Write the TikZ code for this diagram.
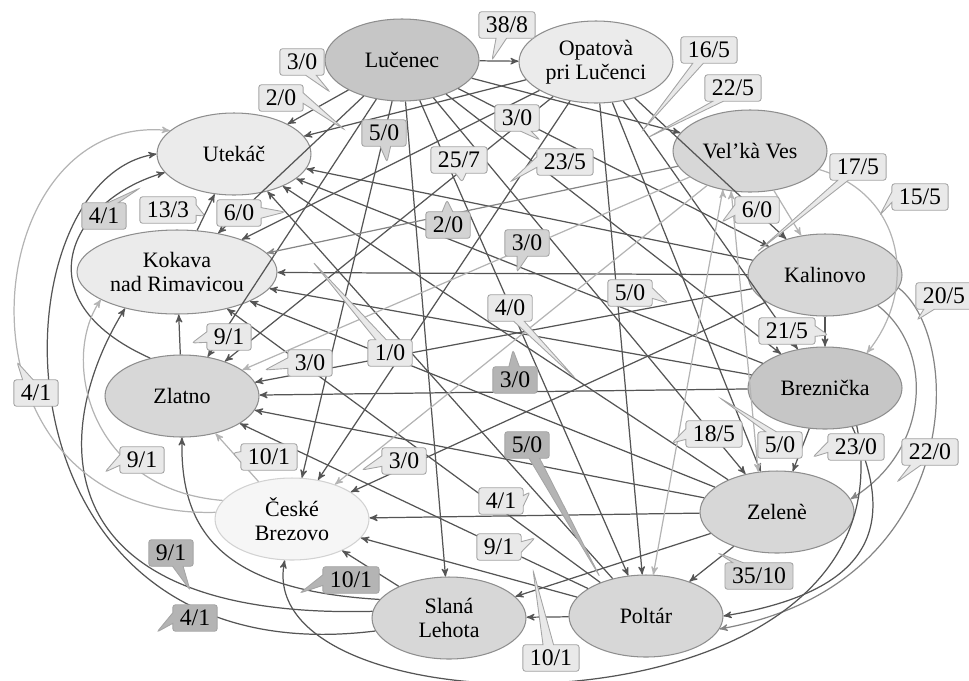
\documentclass[tikz,border=0pt]{standalone}
\usepackage{fontspec}
\setmainfont{Liberation Serif}
\usepackage{xcolor}
\definecolor{colorTownDark}{HTML}{C6C6C6}
\definecolor{colorTownMid}{HTML}{D7D7D7}
\definecolor{colorTownLight}{HTML}{EBEBEB}
\definecolor{colorTownPale}{HTML}{F6F6F6}
\definecolor{colorBorder}{HTML}{8E8E8E}
\definecolor{colorEdge}{HTML}{555555}
\definecolor{colorEdgeMid}{HTML}{858585}
\definecolor{colorEdgeLight}{HTML}{B4B4B4}
\definecolor{colorTagLight}{HTML}{E9E9E9}
\definecolor{colorTagMid}{HTML}{D3D3D3}
\definecolor{colorTagDark}{HTML}{B4B4B4}
\usetikzlibrary{arrows, shapes.geometric, shapes.callouts}
\tikzset{
  town/.style={ellipse, draw=colorBorder, line width=0.6pt, minimum width=3.08cm, minimum height=1.64cm, inner sep=0pt, align=center, font=\fontsize{12.5}{13.5}\selectfont},
  tag/.style={rectangle callout, draw=colorBorder!80, line width=0.5pt, rounded corners=1.5pt, inner xsep=4pt, inner ysep=3pt, minimum height=0.52cm, callout pointer width=6pt, font=\fontsize{13.5}{14}\selectfont},
}
\newcommand{\countTag}[5]{\node[tag, fill=#4, callout absolute pointer={#5}] (#1) at #2 {#3};}

\begin{document}
\begin{tikzpicture}[>=stealth', x=0.02cm, y=-0.02cm, line width=0.7pt]
\useasboundingbox (0,0) rectangle (969,680);
\node[town, fill=colorTownDark] (luc) at (402,60) {Lučenec};
\node[town, fill=colorTownLight] (opa) at (596,62) {Opatovà\\pri Lučenci};
\node[town, fill=colorTownLight] (ute) at (234,154) {Utekáč};
\node[town, fill=colorTownMid] (vel) at (750,151) {Vel’kà Ves};
\node[town, fill=colorTownLight, minimum width=4cm, minimum height=1.68cm] (kok) at (177,272) {Kokava\\nad Rimavicou};
\node[town, fill=colorTownMid] (kal) at (825,275) {Kalinovo};
\node[town, fill=colorTownMid] (zla) at (182,396) {Zlatno};
\node[town, fill=colorTownDark] (bre) at (825,388) {Breznička};
\node[town, fill=colorTownPale, draw=colorBorder!40] (ces) at (292,519) {České\\Brezovo};
\node[town, fill=colorTownMid] (zel) at (777,512) {Zelenè};
\node[town, fill=colorTownMid] (sla) at (449,618) {Slaná\\Lehota};
\node[town, fill=colorTownMid] (pol) at (646,616) {Poltár};

\draw [->, colorEdge] (luc) edge (opa) edge (ute) edge (kok) edge (zla) edge (ces) edge (sla) edge (pol) edge (zel) edge (bre) edge (kal) edge (vel);
\draw [->, colorEdge] (opa) edge (ute) edge (kok) edge (zla) edge (ces) edge (pol) edge (zel) edge (bre) edge (kal);
\draw [->, colorEdge] (kal) edge (kok) edge (zla) edge (ces) edge (bre) edge (ute);
\draw [->, colorEdge] (bre) edge (kok) edge (zla) edge (ute) edge (zel);
\draw [->, colorEdge] (zel) edge (kok) edge (zla) edge (ces) edge (sla) edge (pol) edge (ute);
\draw [->, colorEdge] (pol) edge (sla) edge (ces) edge (zla) edge (kok) edge (ute);
\draw [->, colorEdge] (sla) edge (ces);
\draw [->, colorEdge] (zla) edge (kok);
\draw [->, colorEdge] (kok) edge (ute);
\draw [->, colorEdgeMid] (vel) edge (kok);
\draw [->, colorEdgeLight] (vel) edge (zla) edge (ces) edge (kal);
\draw [->, colorEdgeLight] (vel.-125) edge (pol.80);
\draw [->, colorEdgeLight] (vel.-115) edge (zel.115);
\draw [->, colorEdgeLight] (ces) edge (zla);

\draw [->, colorEdgeLight] (vel.-15) .. controls (905,195) and (918,290) .. (bre.40);
\draw [->, colorEdgeMid] (kal.-30) .. controls (935,350) and (930,450) .. (zel.10);
\draw [->, colorEdgeMid] (kal.-10) .. controls (965,340) and (965,585) .. (pol.-10);
\draw [->, colorEdge] (bre.-55) .. controls (895,520) and (880,590) .. (pol.east);
\draw [->, colorEdge] (bre.-50) .. controls (920,745) and (250,740) .. (ces.-100);
\draw [->, colorEdge] (sla.190) .. controls (-20,680) and (-10,180) .. (ute.west);
\draw [->, colorEdge] (sla.175) .. controls (40,620) and (50,430) .. (kok.-145);
\draw [->, colorEdge] (sla.165) .. controls (220,590) and (180,530) .. (zla.south);
\draw [->, colorEdge] (zla.130) .. controls (20,300) and (70,200) .. (ute.-165);
\draw [->, colorEdgeLight] (ces.175) .. controls (-60,520) and (-30,110) .. (ute.160);
\draw [->, colorEdgeLight] (ces.165) .. controls (90,490) and (60,360) .. (kok.-160);

\countTag{lab1}{(507,25)}{38/8}{colorTagLight}{(492,60)}
\countTag{lab2}{(302,62)}{3/0}{colorTagLight}{(330,92)}
\countTag{lab3}{(281,98)}{2/0}{colorTagLight}{(345,130)}
\countTag{lab4}{(384,133)}{5/0}{colorTagMid}{(387,162)}
\countTag{lab5}{(459,160)}{25/7}{colorTagLight}{(462,182)}
\countTag{lab6}{(517,118)}{3/0}{colorTagLight}{(540,140)}
\countTag{lab7}{(565,162)}{23/5}{colorTagLight}{(510,182)}
\countTag{lab8}{(709,50)}{16/5}{colorTagLight}{(643,130)}
\countTag{lab9}{(733,88)}{22/5}{colorTagLight}{(647,138)}
\countTag{lab10}{(858,167)}{17/5}{colorTagLight}{(757,252)}
\countTag{lab11}{(920,197)}{15/5}{colorTagLight}{(880,215)}
\countTag{lab12}{(757,210)}{6/0}{colorTagLight}{(722,222)}
\countTag{lab13}{(527,243)}{3/0}{colorTagMid}{(517,272)}
\countTag{lab14}{(510,308)}{4/0}{colorTagLight}{(575,378)}
\countTag{lab15}{(630,293)}{5/0}{colorTagLight}{(668,303)}
\countTag{lab16}{(787,331)}{21/5}{colorTagLight}{(828,335)}
\countTag{lab17}{(944,296)}{20/5}{colorTagLight}{(917,320)}
\countTag{lab18}{(229,337)}{9/1}{colorTagLight}{(192,343)}
\countTag{lab19}{(168,210)}{13/3}{colorTagLight}{(205,216)}
\countTag{lab20}{(239,213)}{6/0}{colorTagLight}{(285,212)}
\countTag{lab21}{(104,216)}{4/1}{colorTagMid}{(140,188)}
\countTag{lab22}{(448,225)}{2/0}{colorTagMid}{(447,200)}
\countTag{lab23}{(390,353)}{1/0}{colorTagLight}{(313,262)}
\countTag{lab24}{(515,380)}{3/0}{colorTagDark}{(513,350)}
\countTag{lab25}{(310,363)}{3/0}{colorTagLight}{(265,370)}
\countTag{lab26}{(36,393)}{4/1}{colorTagLight}{(17,362)}
\countTag{lab27}{(142,460)}{9/1}{colorTagLight}{(105,472)}
\countTag{lab28}{(269,457)}{10/1}{colorTagLight}{(233,453)}
\countTag{lab29}{(404,461)}{3/0}{colorTagLight}{(362,470)}
\countTag{lab30}{(171,553)}{9/1}{colorTagDark}{(190,590)}
\countTag{lab31}{(351,580)}{10/1}{colorTagDark}{(300,593)}
\countTag{lab32}{(195,618)}{4/1}{colorTagDark}{(157,632)}
\countTag{lab33}{(527,445)}{5/0}{colorTagDark}{(600,577)}
\countTag{lab34}{(714,434)}{18/5}{colorTagLight}{(672,443)}
\countTag{lab35}{(780,445)}{5/0}{colorTagLight}{(720,398)}
\countTag{lab36}{(856,447)}{23/0}{colorTagLight}{(813,457)}
\countTag{lab37}{(930,452)}{22/0}{colorTagLight}{(897,482)}
\countTag{lab38}{(501,501)}{4/1}{colorTagLight}{(530,492)}
\countTag{lab39}{(499,547)}{9/1}{colorTagLight}{(535,538)}
\countTag{lab40}{(759,576)}{35/10}{colorTagMid}{(718,553)}
\countTag{lab41}{(551,658)}{10/1}{colorTagLight}{(533,570)}
\end{tikzpicture}
\end{document}
